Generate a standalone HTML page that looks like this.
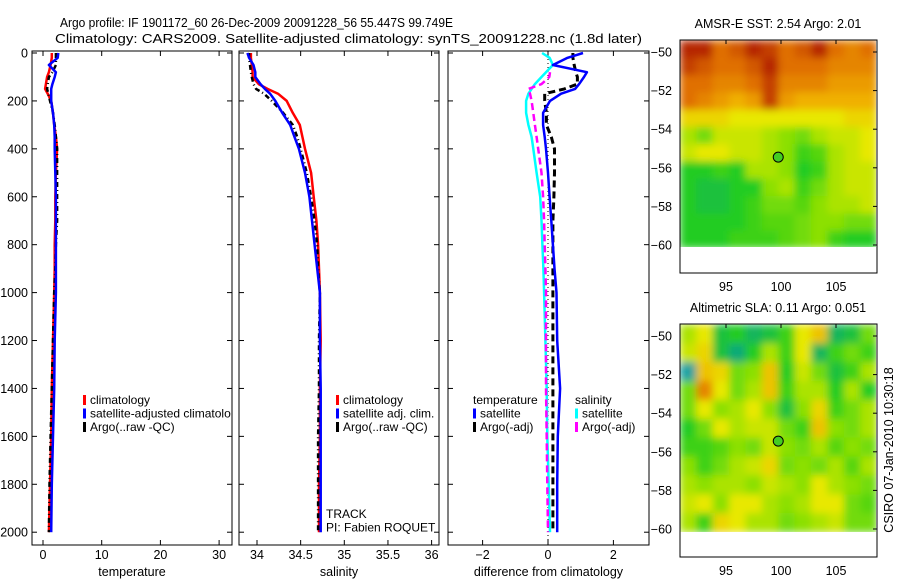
<!DOCTYPE html>
<html><head><meta charset="utf-8"><style>
body{margin:0;background:#fff}
svg{display:block;font-family:"Liberation Sans",sans-serif;font-size:12.5px}
.lg{font-size:12px}
</style></head><body>
<svg id="chart" width="900" height="580" viewBox="0 0 900 580">
<defs>
<filter id="blur" x="0" y="0" width="1" height="1"><feGaussianBlur stdDeviation="4" edgeMode="duplicate"/></filter>
<clipPath id="clip1"><rect x="680" y="40" width="196" height="207"/></clipPath>
<clipPath id="clip2"><rect x="680" y="324" width="196" height="208"/></clipPath>
</defs>
<text x="60" y="27" textLength="393" lengthAdjust="spacingAndGlyphs">Argo profile: IF 1901172_60 26-Dec-2009 20091228_56 55.447S 99.749E</text>
<text x="55" y="43" textLength="587" lengthAdjust="spacingAndGlyphs">Climatology: CARS2009. Satellite-adjusted climatology: synTS_20091228.nc (1.8d later)</text>
<g id="g"></g>
</svg>
<script>
// ---- data ----
const depth = [0,20,50,80,100,130,150,170,200,250,300,350,400,500,600,700,800,900,1000,1200,1400,1600,1800,2000];
const tempClim = [1.5,1.5,1.3,1.0,0.7,0.5,0.35,0.8,1.4,1.7,1.9,2.2,2.4,2.2,2.1,2.1,2.0,2.0,1.9,1.7,1.5,1.4,1.2,1.0];
const tempSat  = [2.6,2.5,1.0,2.2,2.0,1.6,1.4,1.4,1.4,1.7,1.9,2.0,2.0,2.1,2.2,2.2,2.2,2.2,2.2,2.0,1.9,1.7,1.5,1.4];
const tempArgo = [2.2,2.2,2.2,1.6,1.0,0.8,0.7,0.9,1.2,1.7,2.0,2.2,2.4,2.4,2.4,2.4,2.2,2.1,1.9,1.7,1.5,1.3,1.1,1.0];
const salClim = [33.93,33.93,33.94,33.95,33.95,34.02,34.12,34.24,34.34,34.41,34.49,34.52,34.55,34.62,34.65,34.68,34.70,34.71,34.72,34.73,34.72,34.72,34.71,34.71];
const salSat  = [33.89,33.91,33.96,33.98,33.98,34.04,34.09,34.15,34.21,34.29,34.38,34.43,34.48,34.55,34.60,34.63,34.66,34.69,34.72,34.72,34.73,34.73,34.73,34.73];
const salArgo = [33.91,33.91,33.92,33.93,33.94,33.96,33.99,34.08,34.17,34.30,34.41,34.46,34.50,34.57,34.62,34.66,34.69,34.70,34.72,34.71,34.71,34.70,34.70,34.70];
const dTempSat  = [1.07,0.6,0.15,1.19,1.1,0.95,0.83,0.4,0.06,-0.15,-0.15,-0.1,-0.06,0.0,0.05,0.1,0.15,0.2,0.26,0.28,0.37,0.3,0.28,0.28];
const dTempArgo = [0.76,0.76,0.8,0.85,0.9,0.9,0.5,-0.1,-0.1,-0.05,-0.05,0.1,0.2,0.2,0.18,0.15,0.15,0.15,0.15,0.15,0.15,0.15,0.15,0.15];
const dSalSat   = [-0.18,0.05,0.15,-0.06,-0.2,-0.4,-0.5,-0.6,-0.67,-0.67,-0.6,-0.5,-0.45,-0.35,-0.24,-0.2,-0.17,-0.14,-0.12,-0.08,-0.04,-0.02,0.02,0.06];
const dSalArgo  = [null,null,null,0.06,0.04,-0.2,-0.6,-0.55,-0.5,-0.45,-0.4,-0.35,-0.3,-0.2,-0.15,-0.12,-0.1,-0.08,-0.06,-0.06,-0.06,-0.04,-0.02,0.0];
const depthTicks = [0,200,400,600,800,1000,1200,1400,1600,1800,2000];
const tempTicks = [0,10,20,30];
const salTicks = [34,34.5,35,35.5,36];
const diffTicks = [-2,0,2];
const latTicks = [-50,-52,-54,-56,-58,-60];
const lonTicks = [95,100,105];
const argoLon = 99.749, argoLat = -55.447;
const sstGrid = [
[0.95,0.95,0.8,0.85,0.95,0.9,0.8,0.85,0.95,0.8,0.75,0.8],
[0.9,0.85,0.8,0.8,0.85,0.95,0.8,0.8,0.8,0.75,0.75,0.75],
[0.8,0.8,0.75,0.75,0.8,0.9,0.75,0.75,0.75,0.7,0.7,0.7],
[0.8,0.75,0.7,0.65,0.7,0.9,0.7,0.65,0.65,0.65,0.65,0.65],
[0.55,0.55,0.55,0.5,0.5,0.5,0.5,0.5,0.5,0.5,0.55,0.55],
[0.4,0.3,0.45,0.45,0.45,0.4,0.35,0.3,0.4,0.45,0.45,0.5],
[0.45,0.5,0.5,0.45,0.45,0.4,0.35,0.2,0.25,0.4,0.45,0.5],
[0.15,0.15,0.2,0.15,0.4,0.4,0.35,0.15,0.2,0.4,0.45,0.45],
[0.15,0.1,0.1,0.15,0.15,0.35,0.4,0.2,0.3,0.4,0.45,0.45],
[0.15,0.1,0.1,0.15,0.2,0.3,0.3,0.25,0.35,0.4,0.4,0.45],
[0.15,0.15,0.15,0.15,0.2,0.25,0.25,0.3,0.35,0.35,0.3,0.3],
[0.15,0.15,0.15,0.2,0.2,0.2,0.25,0.3,0.35,0.2,0.15,0.15]];
const slaGrid = [
[0.4,0.5,0.1,0.15,0.05,0.1,0.2,0.5,0.6,0.05,0.1,0.3],
[0.45,0.55,0.1,0.0,0.15,0.4,0.2,0.5,0.05,0.2,0.3,0.2],
[-0.1,0.6,0.55,0.3,0.35,0.6,0.15,0.45,0.3,0.1,0.2,0.4],
[0.3,0.75,0.5,0.3,0.4,0.6,0.2,0.4,0.4,0.15,0.4,0.15],
[0.3,0.5,0.35,0.4,0.5,0.35,0.1,0.35,0.55,0.2,0.3,0.4],
[0.15,0.3,0.5,0.4,0.45,0.45,0.3,0.2,0.6,0.35,0.3,0.4],
[0.2,0.2,0.25,0.35,0.3,0.45,0.35,0.3,0.4,0.25,0.35,0.3],
[0.35,0.2,0.3,0.4,0.45,0.55,0.3,0.35,0.3,0.4,0.25,0.4],
[0.4,0.35,0.4,0.4,0.35,0.45,0.4,0.35,0.5,0.4,0.35,0.3],
[0.45,0.5,0.35,0.5,0.5,0.4,0.35,0.4,0.5,0.5,0.3,0.25],
[0.4,0.2,0.55,0.5,0.4,0.4,0.3,0.35,0.4,0.45,0.3,0.3]];

// ---- drawing ----
const NS='http://www.w3.org/2000/svg';
const G=document.getElementById('g');
function el(tag,attrs,parent){const e=document.createElementNS(NS,tag);for(const k in attrs)e.setAttribute(k,attrs[k]);(parent||G).appendChild(e);return e;}
function txt(x,y,s,anchor,parent){const t=el('text',{x:x,y:y,'text-anchor':anchor||'start'},parent);t.textContent=s;return t;}
const yD=d=>53+d*0.2396;
const P=[
 {name:'temperature-panel',x0:32,x1:232,f:v=>43+v*5.87,ticks:tempTicks,label:'temperature'},
 {name:'salinity-panel',x0:239,x1:439,f:v=>257+(v-34)*87.3,ticks:salTicks,label:'salinity'},
 {name:'difference-panel',x0:448,x1:649,f:v=>548+v*32.7,ticks:diffTicks,label:'difference from climatology'}];
const yTop=51,yBot=545;
P.forEach((p,i)=>{
  const g=el('g',{});
  
  
  const fr=el('rect',{x:p.x0,y:yTop,width:p.x1-p.x0,height:yBot-yTop,fill:'none',stroke:'#000','stroke-width':1},g);
  
  
  depthTicks.forEach(d=>{const y=yD(d);
    el('line',{x1:p.x0,x2:p.x0+5,y1:y,y2:y,stroke:'#000'},g);
    el('line',{x1:p.x1,x2:p.x1-5,y1:y,y2:y,stroke:'#000'},g);
    if(i==0){const t=txt(p.x0-4,y+4.5,String(d),'end',g);
      
      }
  });
  p.ticks.forEach(v=>{const x=p.f(v);
    el('line',{x1:x,x2:x,y1:yTop,y2:yTop+5,stroke:'#000'},g);
    el('line',{x1:x,x2:x,y1:yBot,y2:yBot-5,stroke:'#000'},g);
    const t=txt(x,559,String(v).replace('-','\u2212'),'middle',g);
    
    
  });
  const t=txt((p.x0+p.x1)/2,576,p.label,'middle',g);
  
  
  p.g=g;
});
function line(p,vals,color,dash,name,w){
  let d='',pen=false;
  vals.forEach((v,k)=>{if(v===null){pen=false;return;}d+=(pen?'L':'M')+p.f(v).toFixed(1)+','+yD(depth[k]).toFixed(1);pen=true;});
  const e=el('path',{d:d,fill:'none',stroke:color,'stroke-width':w||2.5,'stroke-dasharray':dash||'none','stroke-linejoin':'round'},p.g);
  
  
}
line(P[0],tempClim,'#f00',null,'temperature-climatology-line');
line(P[0],tempArgo,'#000','5,3,1,3','temperature-argo-line');
line(P[0],tempSat,'#00f',null,'temperature-satellite-line');
line(P[1],salClim,'#f00',null,'salinity-climatology-line');
line(P[1],salArgo,'#000','5,3,1,3','salinity-argo-line');
line(P[1],salSat,'#00f',null,'salinity-satellite-line');
const zl=el('line',{x1:548,x2:548,y1:yTop,y2:yBot,stroke:'#000','stroke-dasharray':'1,3'},P[2].g);


line(P[2],dSalSat,'#0ff',null,'salinity-satellite-diff-line');
line(P[2],dSalArgo,'#f0f','7,4','salinity-argo-diff-line');
line(P[2],dTempArgo,'#000','7,4','temperature-argo-diff-line',3);
line(P[2],dTempSat,'#00f',null,'temperature-satellite-diff-line');

function legend(parent,x,y,items,name){
  const g=el('g',{class:'lg'},parent);
  
  
  items.forEach((it,k)=>{
    if(it[0])el('rect',{x:x,y:y+k*13.5-9,width:3,height:10,fill:it[0]},g);
    const t=txt(x+(it[0]?7:0),y+k*13.5,it[1],'start',g);
    
    
  });
}
legend(P[0].g,83,404,[['#f00','climatology'],['#00f','satellite-adjusted climatolo'],['#000','Argo(..raw -QC)']],'temperature-legend');
legend(P[1].g,336,404,[['#f00','climatology'],['#00f','satellite adj. clim.'],['#000','Argo(..raw -QC)']],'salinity-legend');
legend(P[2].g,473,404,[[null,'temperature'],['#00f','satellite'],['#000','Argo(-adj)']],'diff-temperature-legend');
legend(P[2].g,575,404,[[null,'salinity'],['#0ff','satellite'],['#f0f','Argo(-adj)']],'diff-salinity-legend');
legend(P[1].g,326,518,[[null,'TRACK'],[null,'PI: Fabien ROQUET']],'track-info');

// maps
const stops=[[-0.2,[34,153,204]],[0,[17,170,119]],[0.15,[34,204,34]],[0.35,[140,224,0]],[0.5,[232,232,0]],[0.65,[240,176,0]],[0.8,[224,112,0]],[1,[168,16,0]]];
function cmap(v){for(let i=1;i<stops.length;i++){if(v<=stops[i][0]){const a=stops[i-1],b=stops[i],t=Math.max(0,(v-a[0])/(b[0]-a[0]));return 'rgb('+a[1].map((c,j)=>Math.round(c+(b[1][j]-c)*t)).join(',')+')';}}return 'rgb(168,16,0)';}
function map(y0,grid,title,clip,name){
  const g=el('g',{});
  
  
  const lat=v=>y0+12+(-50-v)*19.3, lon=v=>781+(v-100)*11;
  const ig=el('g',{'clip-path':'url(#'+clip+')'},g);
  const bg=el('g',{filter:'url(#blur)'},ig);
  const rows=grid.length,cols=grid[0].length;
  const latTop=-49.4,latBot=-60.15,lonL=90.8,lonR=108.7;
  grid.forEach((row,r)=>row.forEach((v,c)=>{
    const x=lon(lonL+(lonR-lonL)*c/cols),x2=lon(lonL+(lonR-lonL)*(c+1)/cols);
    const y=lat(latTop+(latBot-latTop)*r/rows),y2=lat(latTop+(latBot-latTop)*(r+1)/rows);
    const cell=el('rect',{x:x,y:y,width:x2-x+0.5,height:y2-y+0.5,fill:cmap(v)},bg);
    
    
  }));
  const fr=el('rect',{x:680,y:y0,width:197,height:233,fill:'none',stroke:'#000'},g);
  
  
  latTicks.forEach(v=>{const y=lat(v);
    el('line',{x1:877,x2:873,y1:y,y2:y,stroke:'#000'},g);
    const t=txt(672,y+4.5,String(v).replace('-','\u2212'),'end',g);
    
    });
  lonTicks.forEach(v=>{const x=lon(v);
    el('line',{x1:x,x2:x,y1:y0,y2:y0+4,stroke:'#000'},g);
    const t=txt(x,y0+251,String(v),'middle',g);
    
    });
  const m=el('circle',{cx:lon(argoLon),cy:lat(argoLat),r:5,fill:'#44cc22',stroke:'#000'},g);
  
  
  const t=txt(778,y0-12,title,'middle',g);
  
  
}
map(40,sstGrid,'AMSR-E SST: 2.54 Argo: 2.01','clip1','sst-map');
map(324,slaGrid,'Altimetric SLA: 0.11 Argo: 0.051','clip2','sla-map');
const st=txt(0,0,'CSIRO 07-Jan-2010 10:30:18','middle');
st.setAttribute('transform','translate(893,450) rotate(-90)');


</script>
</body></html>
